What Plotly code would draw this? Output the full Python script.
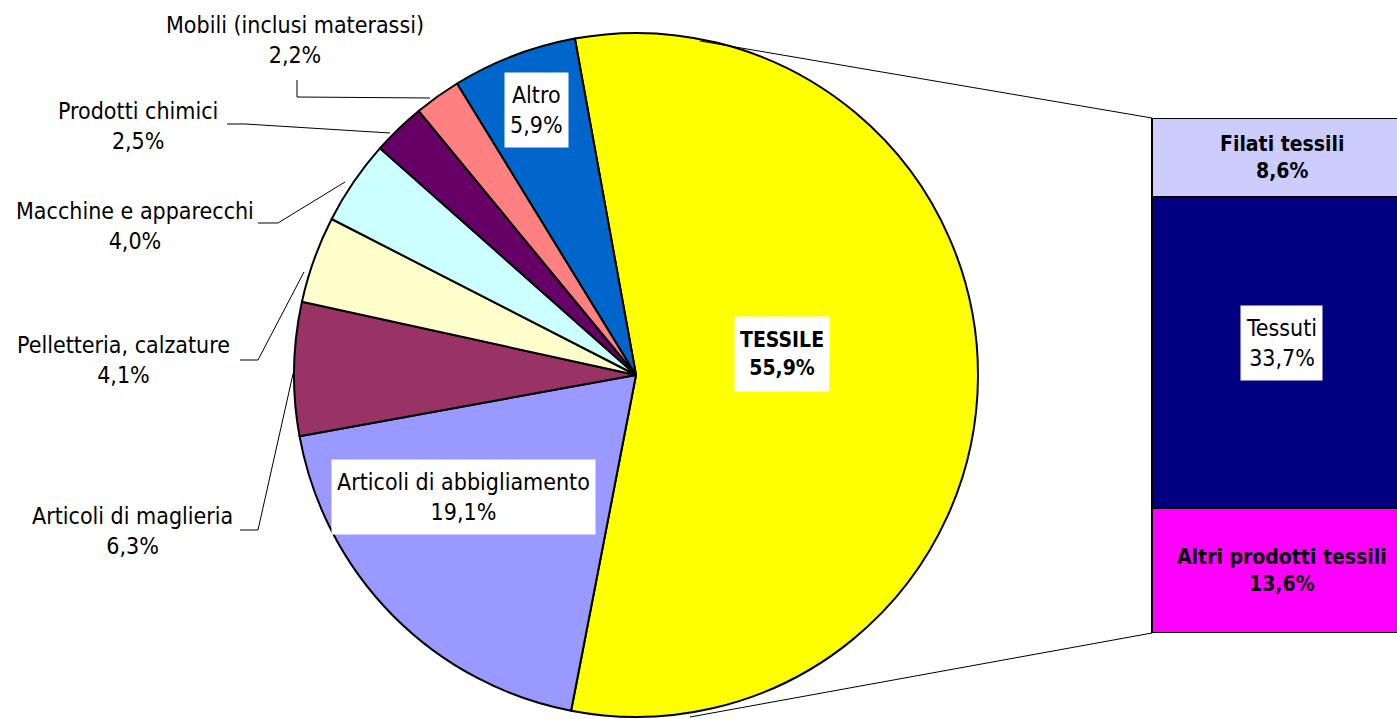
import plotly.graph_objects as go

W, H = 1397, 719

# Pie: export shares by product (%)
pie_labels = ["TESSILE", "Articoli di abbigliamento", "Articoli di maglieria",
              "Pelletteria, calzature", "Macchine e apparecchi", "Prodotti chimici",
              "Mobili (inclusi materassi)", "Altro"]
pie_values = [55.9, 19.1, 6.3, 4.1, 4.0, 2.5, 2.2, 5.9]
pie_colors = ["#FFFF00", "#9999FF", "#993366", "#FFFFCC", "#CCFFFF", "#660066",
              "#FF8080", "#0066CC"]

# Bar: breakdown of TESSILE (bottom to top)
bar_labels = ["Altri prodotti tessili", "Tessuti", "Filati tessili"]
bar_values = [13.6, 33.7, 8.6]
bar_colors = ["#FF00FF", "#000080", "#CCCCFF"]

FONT = "DejaVu Sans Condensed, DejaVu Sans, sans-serif"
FS = 23
FS_BOLD = 21


def pct(v):
    return f"{v:.1f}".replace(".", ",") + "%"


def px(x, y):
    return x / W, 1 - y / H


fig = go.Figure()

fig.add_trace(go.Pie(
    labels=pie_labels, values=pie_values, sort=False, direction="clockwise",
    rotation=-10.3, textinfo="none", hoverinfo="label+percent",
    marker=dict(colors=pie_colors, line=dict(color="black", width=2)),
    domain=dict(x=[294 / W, 978 / W], y=[2 / H, 686 / H]),
    showlegend=False,
))

for lab, val, col in zip(bar_labels, bar_values, bar_colors):
    fig.add_trace(go.Bar(
        x=[0.53], y=[val], width=[1.06], name=lab,
        marker=dict(color=col, line=dict(color="black", width=2)),
        xaxis="x", yaxis="y", showlegend=False, hoverinfo="name+y",
    ))

annotations = []

# outside pie labels (index, text centre in px)
outside = {6: (295, 40), 5: (138, 126), 4: (135, 226), 3: (123, 360), 2: (132, 531)}
for i, (cx, cy) in outside.items():
    x, y = px(cx, cy)
    annotations.append(dict(
        x=x, y=y, xref="paper", yref="paper", showarrow=False,
        xanchor="center", yanchor="middle",
        text=f"{pie_labels[i]}<br>{pct(pie_values[i])}",
        font=dict(family=FONT, size=FS, color="black"),
    ))

# inside pie labels with white boxes
inside = {7: (536, 110), 0: (782, 354), 1: (463, 497)}
for i, (cx, cy) in inside.items():
    x, y = px(cx, cy)
    txt = f"{pie_labels[i]}<br>{pct(pie_values[i])}"
    size = FS
    if i == 0:
        txt = f"<b>{txt}</b>"
        size = FS_BOLD
    annotations.append(dict(
        x=x, y=y, xref="paper", yref="paper", showarrow=False, text=txt,
        xanchor="center", yanchor="middle", height=64,
        bgcolor="white", borderpad=5,
        font=dict(family=FONT, size=size, color="black"),
    ))

# bar labels at segment midpoints
base = 0
for lab, val in zip(bar_labels, bar_values):
    mid = base + val / 2
    base += val
    txt = f"{lab}<br>{pct(val)}"
    extra = dict(bgcolor=None)
    size, shift = FS_BOLD, 0
    if lab != "Tessuti":
        txt = f"<b>{txt}</b>"
    else:
        extra = dict(bgcolor="white", height=64)
        size, shift = FS, 9
    annotations.append(dict(
        x=0.53, y=mid, xref="x", yref="y", showarrow=False, text=txt,
        xanchor="center", yanchor="middle", yshift=shift, borderpad=5,
        font=dict(family=FONT, size=size, color="black"), **extra,
    ))

shapes = []
leaders = [
    [(297, 80), (297, 97), (430, 98)],
    [(227, 124), (245, 124), (390, 133)],
    [(258, 223), (278, 223), (345, 182)],
    [(240, 360), (258, 360), (304, 272)],
    [(240, 530), (258, 530), (293, 374)],
    [(700, 41), (1152, 118)],
    [(690, 717), (1152, 633)],
]
for pts in leaders:
    path = ""
    for k, (a, b) in enumerate(pts):
        x, y = px(a, b)
        path += ("M" if k == 0 else " L") + f"{x:.5f},{y:.5f}"
    shapes.append(dict(type="path", path=path, xref="paper", yref="paper",
                       line=dict(color="black", width=1)))

fig.update_layout(
    width=W, height=H, margin=dict(l=0, r=0, t=0, b=0),
    paper_bgcolor="white", plot_bgcolor="white", barmode="stack",
    xaxis=dict(domain=[1151 / W, 1], range=[-0.005, 1], visible=False, fixedrange=True),
    yaxis=dict(domain=[86 / H, 601 / H], range=[0, sum(bar_values)], visible=False,
               fixedrange=True),
    annotations=annotations, shapes=shapes,
    font=dict(family=FONT, size=FS),
)

fig.write_html(
    "out.html",
    config={"displayModeBar": False},
    post_script="document.body.style.margin='0';document.body.style.overflow='hidden';",
)
